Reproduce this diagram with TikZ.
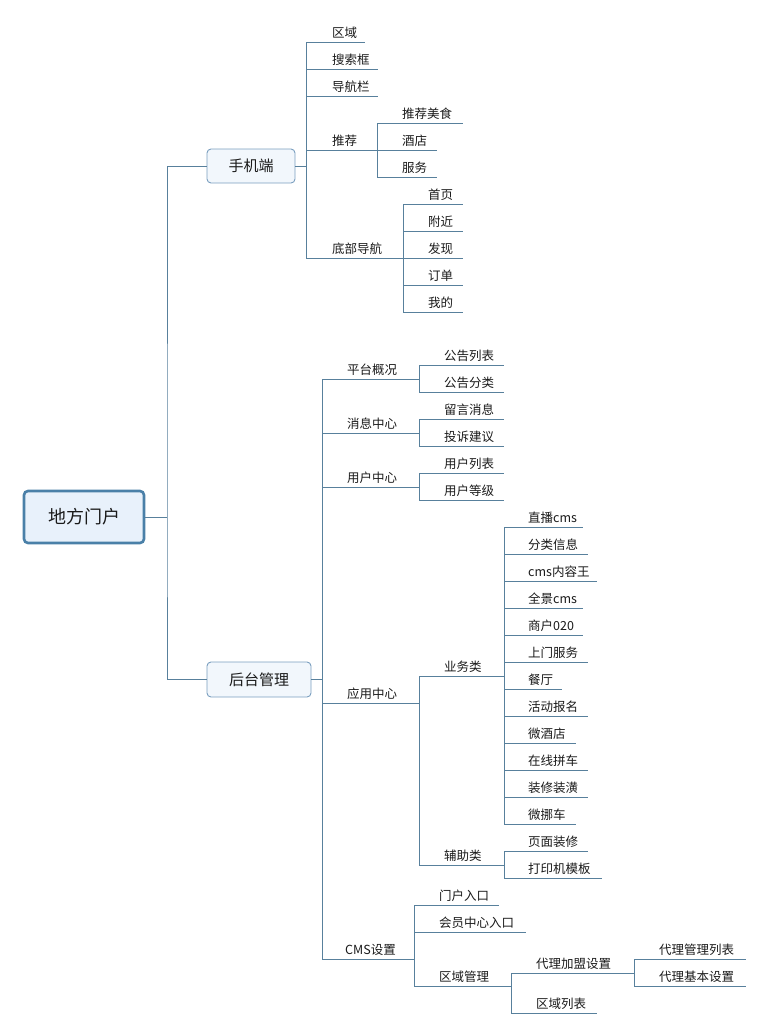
\documentclass[tikz,border=0pt]{standalone}
\usepackage{fontspec}
\newfontfamily\cjk{Noto Sans CJK SC}
\definecolor{lncol}{HTML}{58809C}
\definecolor{rootborder}{HTML}{4A80A8}
\definecolor{rootfill}{HTML}{E8F1FB}
\definecolor{boxborder}{HTML}{7A9FBF}
\definecolor{boxfill}{HTML}{F2F7FC}
\definecolor{txt}{HTML}{1A1A1A}
\tikzset{
  ln/.style={draw=lncol, line width=1pt},
  lab/.style={anchor=west, inner sep=0pt, text=txt, font=\cjk\fontsize{12.5}{12.5}\selectfont},
  rootbox/.style={draw=rootborder, fill=rootfill, line width=2.6pt, rounded corners=4pt,
    minimum width=120pt, minimum height=52pt, inner sep=0pt, text=txt,
    font=\cjk\fontsize{18}{18}\selectfont},
  subbox/.style={draw=boxborder, fill=boxfill, line width=0.9pt, rounded corners=4pt,
    minimum height=34pt, inner sep=0pt, text=txt, font=\cjk\fontsize{15}{15}\selectfont},
}
\newcommand\lf[6]{%
  \coordinate (#1s) at (#2,#4);
  \coordinate (#1e) at (#3,#4);
  \node[lab] (#1) at (#5,#4-9.3) {#6};
  \draw[ln] (#1s) -- (#1e);}
\begin{document}
\begin{tikzpicture}[x=1pt,y=-1pt]
\useasboundingbox (0,0) rectangle (766,1034);
% root and main boxes
\node[rootbox] (root) at (84,517) {地方门户};
\node[subbox, minimum width=88pt] (mob) at (251,166) {手机端};
\node[subbox, minimum width=104pt, minimum height=35pt] (adm) at (259,679.5) {后台管理};
\coordinate (t) at (167,517);
\draw[ln] (root.east) -- (t);
\draw[ln] (mob.west) -| (t) |- (adm.west);
% mobile
\lf{m1}{306}{365}{42}{332}{区域}
\lf{m2}{306}{378}{69}{332}{搜索框}
\lf{m3}{306}{378}{96}{332}{导航栏}
\lf{m4}{306}{377}{150}{332}{推荐}
\lf{m5}{306}{403}{258}{332}{底部导航}
\draw[ln] (m1s) -- (m5s);
\draw[ln] (mob.east) -- (mob.east -| m1s);
\lf{r1}{377}{463}{123}{402}{推荐美食}
\lf{r2}{377}{437}{150}{402}{酒店}
\lf{r3}{377}{437}{177}{402}{服务}
\draw[ln] (r1s) -- (r3s);
\lf{b1}{403}{463}{204}{428}{首页}
\lf{b2}{403}{463}{231}{428}{附近}
\lf{b3}{403}{463}{258}{428}{发现}
\lf{b4}{403}{463}{285}{428}{订单}
\lf{b5}{403}{463}{312}{428}{我的}
\draw[ln] (b1s) -- (b5s);
% admin
\lf{a1}{322}{419}{379}{347}{平台概况}
\lf{a2}{322}{419}{433}{347}{消息中心}
\lf{a3}{322}{419}{487}{347}{用户中心}
\lf{a4}{322}{419}{703}{347}{应用中心}
\lf{a5}{322}{414}{959}{345}{CMS设置}
\draw[ln] (a1s) -- (a5s);
\draw[ln] (adm.east) -- (adm.east -| a1s);
\lf{p1}{419}{504}{365}{444}{公告列表}
\lf{p2}{419}{504}{392}{444}{公告分类}
\draw[ln] (p1s) -- (p2s);
\lf{q1}{419}{504}{419}{444}{留言消息}
\lf{q2}{419}{504}{446}{444}{投诉建议}
\draw[ln] (q1s) -- (q2s);
\lf{u1}{419}{504}{473}{444}{用户列表}
\lf{u2}{419}{504}{500}{444}{用户等级}
\draw[ln] (u1s) -- (u2s);
\lf{g1}{419}{504}{676}{444}{业务类}
\lf{g2}{419}{504}{865}{444}{辅助类}
\draw[ln] (g1s) -- (g2s);
\lf{h1}{504}{583}{527}{528}{直播cms}
\lf{h2}{504}{588}{554}{528}{分类信息}
\lf{h3}{504}{597}{581}{528}{cms内容王}
\lf{h4}{504}{583}{608}{528}{全景cms}
\lf{h5}{504}{583}{635}{528}{商户020}
\lf{h6}{504}{588}{662}{528}{上门服务}
\lf{h7}{504}{562}{689}{528}{餐厅}
\lf{h8}{504}{588}{716}{528}{活动报名}
\lf{h9}{504}{576}{743}{528}{微酒店}
\lf{h10}{504}{588}{770}{528}{在线拼车}
\lf{h11}{504}{588}{797}{528}{装修装潢}
\lf{h12}{504}{576}{824}{528}{微挪车}
\draw[ln] (h1s) -- (h12s);
\lf{k1}{504}{588}{851}{528}{页面装修}
\lf{k2}{504}{602}{878}{528}{打印机模板}
\draw[ln] (k1s) -- (k2s);
\lf{c1}{414}{499}{905}{439}{门户入口}
\lf{c2}{414}{526}{932}{439}{会员中心入口}
\lf{c3}{414}{511}{986}{439}{区域管理}
\draw[ln] (c1s) -- (c3s);
\lf{d1}{511}{634}{973}{536}{代理加盟设置}
\lf{d2}{511}{597}{1013}{536}{区域列表}
\draw[ln] (d1s) -- (d2s);
\lf{e1}{634}{746}{959}{659}{代理管理列表}
\lf{e2}{634}{746}{986}{659}{代理基本设置}
\draw[ln] (e1s) -- (e2s);
\end{tikzpicture}
\end{document}
